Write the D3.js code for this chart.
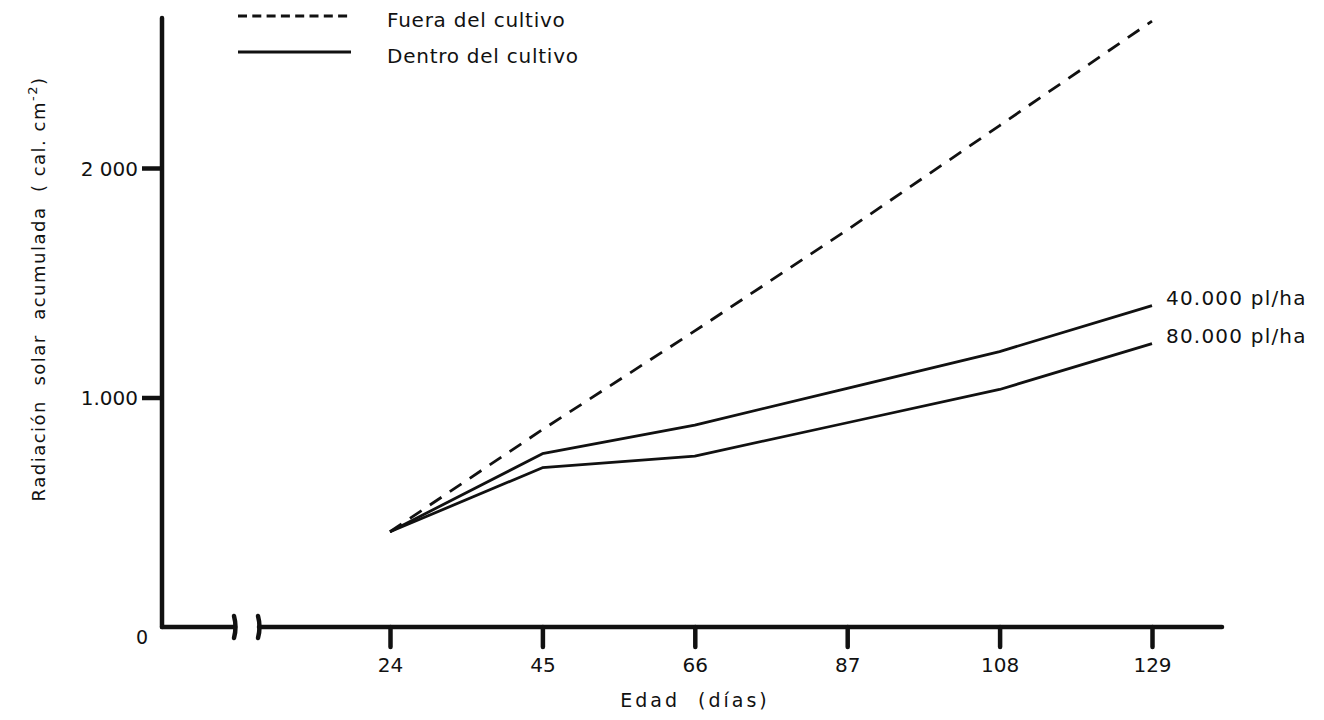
<!DOCTYPE html>
<html>
<head>
<meta charset="utf-8">
<script src="https://cdn.jsdelivr.net/npm/d3@7"></script>
<style>
  html, body { margin: 0; padding: 0; background: #fff; }
  svg text { font-family: "DejaVu Sans", "Liberation Sans", sans-serif; fill: #111; }
</style>
</head>
<body>
<svg id="chart" width="1324" height="720"></svg>
<script>
// Age of the crop (days) at each measurement
const days = [24, 45, 66, 87, 108, 129];
// Accumulated solar radiation (cal.cm-2)
const outside = [415, 860, 1290, 1730, 2185, 2640];      // Fuera del cultivo
const inside40 = [415, 755, 880, 1040, 1200, 1400];      // Dentro, 40.000 pl/ha
const inside80 = [415, 694, 745, 890, 1035, 1235];       // Dentro, 80.000 pl/ha
const yTicks = [1000, 2000];
const yTickLabels = ["1.000", "2 000"];
const seriesLabels = ["40.000 pl/ha", "80.000 pl/ha"];
const legendLabels = ["Fuera del cultivo", "Dentro del cultivo"];

const svg = d3.select("#chart");
const ink = "#111";

const x = d3.scaleLinear().domain([24, 129]).range([390, 1152]);
const y = d3.scaleLinear().domain([0, 2000]).range([627, 168]);
const axisX0 = 162;          // y-axis position
const axisY0 = y(0);

// y axis line
svg.append("line")
  .attr("x1", axisX0).attr("x2", axisX0)
  .attr("y1", axisY0).attr("y2", 18)
  .attr("stroke", ink).attr("stroke-width", 4.5).attr("stroke-linecap", "round");

// y ticks and labels
const yAxis = d3.axisLeft(y).tickValues(yTicks).tickSize(20)
  .tickFormat((d, i) => yTickLabels[i]).tickPadding(4);
const gy = svg.append("g").attr("transform", `translate(${axisX0},0)`).call(yAxis);
gy.select(".domain").remove();
gy.selectAll(".tick line").attr("stroke", ink).attr("stroke-width", 4.5);
gy.selectAll(".tick text").style("font-size", "20px").attr("dy", "0.35em").attr("fill", ink);

svg.append("text").attr("x", 142).attr("y", 637).attr("dy", "0.35em").attr("text-anchor", "middle")
  .style("font-size", "19px").text("0");

// x axis line with a break between the origin and the first measured day
svg.append("line")
  .attr("x1", axisX0).attr("x2", 235).attr("y1", axisY0).attr("y2", axisY0)
  .attr("stroke", ink).attr("stroke-width", 4.5).attr("stroke-linecap", "round");
svg.append("line")
  .attr("x1", 259).attr("x2", 1222).attr("y1", axisY0).attr("y2", axisY0)
  .attr("stroke", ink).attr("stroke-width", 4.5).attr("stroke-linecap", "round");
[235, 259].forEach(bx => {
  svg.append("path")
    .attr("d", `M${bx - 1},${axisY0 - 11} Q${bx + 2},${axisY0} ${bx - 1},${axisY0 + 11}`)
    .attr("fill", "none").attr("stroke", ink).attr("stroke-width", 4.5).attr("stroke-linecap", "round");
});

// x ticks and labels
const xAxis = d3.axisBottom(x).tickValues(days).tickSize(20).tickPadding(11);
const gx = svg.append("g").attr("transform", `translate(0,${axisY0})`).call(xAxis);
gx.select(".domain").remove();
gx.selectAll(".tick line").attr("stroke", ink).attr("stroke-width", 4.5).attr("stroke-linecap", "round");
gx.selectAll(".tick text").style("font-size", "20px").attr("fill", ink);

// axis titles
svg.append("text").attr("x", 695).attr("y", 700).attr("dy", "0.35em").attr("text-anchor", "middle")
  .style("font-size", "19px").style("letter-spacing", "3px").attr("xml:space", "preserve")
  .text("Edad  (días)");
const yt = svg.append("text")
  .attr("transform", "translate(39,289) rotate(-90)")
  .attr("dy", "0.35em")
  .attr("text-anchor", "middle").style("font-size", "18px").style("letter-spacing", "1.5px")
  .attr("xml:space", "preserve");
yt.append("tspan").attr("dy", "0.35em").text("Radiación  solar  acumulada  ( cal. cm");
yt.append("tspan").attr("dy", -8).style("font-size", "13px").text("-2");
yt.append("tspan").attr("dy", 8).text(")");

// series
const line = d3.line().x((d, i) => x(days[i])).y(d => y(d));
svg.append("path").datum(outside).attr("d", line)
  .attr("fill", "none").attr("stroke", ink).attr("stroke-width", 2.8)
  .attr("stroke-dasharray", "14 10");
[inside40, inside80].forEach((s, k) => {
  svg.append("path").datum(s).attr("d", line)
    .attr("fill", "none").attr("stroke", ink).attr("stroke-width", 2.8)
    .attr("stroke-linejoin", "round");
  svg.append("text")
    .attr("x", x(days[days.length - 1]) + 14)
    .attr("y", y(s[s.length - 1]) - 8)
    .attr("dy", "0.35em").style("font-size", "20px").style("letter-spacing", "1.2px")
    .text(seriesLabels[k]);
});

// legend
const legend = svg.append("g");
[["9 5.3", 16, 20], [null, 52, 56]].forEach(([dash, ly, ty], i) => {
  const l = legend.append("line").attr("x1", 238).attr("x2", 351).attr("y1", ly).attr("y2", ly)
    .attr("stroke", ink).attr("stroke-width", 2.8);
  if (dash) l.attr("stroke-dasharray", dash);
  legend.append("text").attr("x", 387).attr("y", ty).attr("dy", "0.35em")
    .style("font-size", "20px").style("letter-spacing", "0.75px").text(legendLabels[i]);
});
</script>
</body>
</html>
